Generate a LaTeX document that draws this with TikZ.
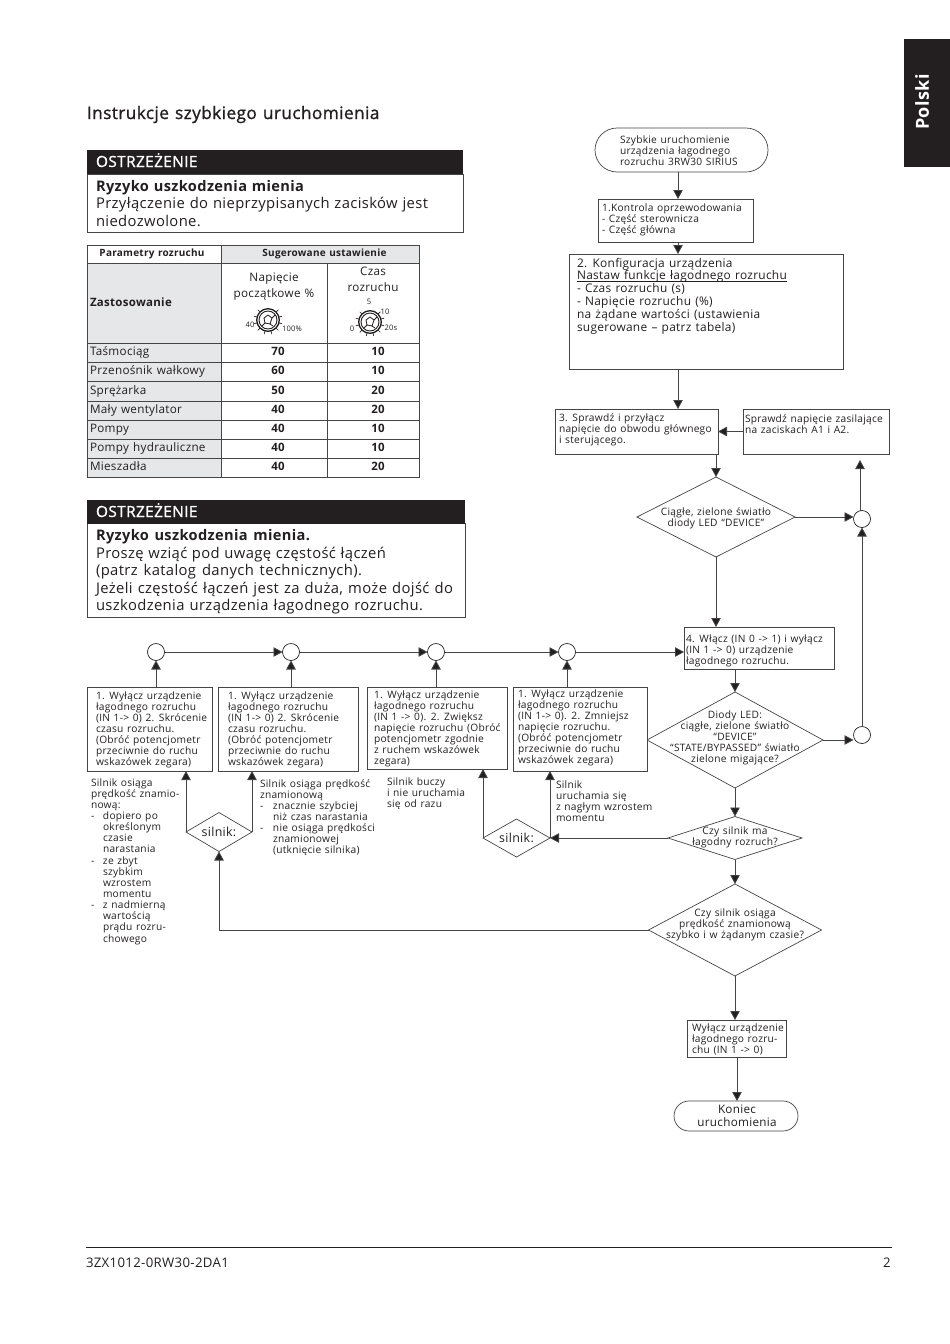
\documentclass[tikz,border=0pt]{standalone}
\usepackage{fontspec}
\setmainfont[LetterSpace=2.5,WordSpace=1.25]{Open Sans}
\usetikzlibrary{shapes.geometric,shapes.misc,arrows.meta,calc}
\definecolor{ink}{HTML}{231F20}
\definecolor{cellgrey}{HTML}{E6E7E8}
\definecolor{linegrey}{HTML}{454545}
\newcommand{\fs}[2]{\fontsize{#1}{#2}\selectfont}
\newcommand{\flowfont}{\fs{10.2}{11.15}}
\newcommand{\st}{\rule{0pt}{9pt}}
\newcommand{\fit}[2]{\makebox[#1pt][s]{#2}}
\newcommand{\ulin}[1]{\setbox0\hbox{#1}\rlap{\rule[-1.6pt]{\wd0}{.6pt}}\box0 }
% name, x1, y1, x2, y2, inset x, first baseline, font, text
\newcommand{\fbx}[9]{%
  \pgfmathsetmacro{\bxW}{#4-#2}\pgfmathsetmacro{\bxH}{#5-#3}%
  \pgfmathsetmacro{\bxV}{#7-10}%
  \node[flowbox,anchor=north west,minimum width=\bxW pt,minimum height=\bxH pt] (#1) at (#2,#3)
   {\parbox[c][\bxH pt][t]{\bxW pt}{#8\leftskip=#6pt\rightskip=-30pt plus 1fil\parindent=0pt\parfillskip=0pt plus 1fil
     \vspace*{\bxV pt}\rule{0pt}{10pt}#9}};}
% zero-size centred text inside a shape: vertical shift, text
\newcommand{\zb}[2]{\raisebox{#1pt}{\smash{\makebox[0pt]{\parbox[c]{300pt}{\centering\flowfont #2}}}}}
\newcommand{\dsh}{\makebox[12pt][l]{-}}
\tikzset{
  flowbox/.style={draw=linegrey,line width=.8pt,fill=white,inner sep=0pt,outer sep=0pt,text=ink},
  dia/.style={diamond,draw=linegrey,line width=.7pt,inner sep=0pt,outer sep=0pt,aspect=1.5,text=ink},
  junction/.style={circle,draw=ink,line width=.7pt,minimum size=17pt,inner sep=0pt,outer sep=0pt,fill=white},
  term/.style={rounded rectangle,draw=linegrey,line width=.7pt,inner sep=0pt,outer sep=0pt},
  conn/.style={draw=linegrey,line width=.8pt,-{Triangle[length=9pt,width=9.5pt,fill=ink]}},
  txt/.style={inner sep=0pt,outer sep=0pt,text=ink,anchor=base west},
  ctxt/.style={inner sep=0pt,outer sep=0pt,text=ink,anchor=base},
  sidenote/.style={inner sep=0pt,outer sep=0pt,text=ink,anchor=north west,align=left,font=\flowfont},
  bar/.style={fill=ink,draw=none,inner sep=0pt,outer sep=0pt,anchor=north west},
  panel/.style={draw=linegrey,line width=.9pt,fill=white,inner sep=0pt,outer sep=0pt,anchor=north west},
  tbl/.style={draw=linegrey,line width=.9pt},
  dialmark/.style={inner sep=0pt,outer sep=0pt,text=ink,font=\fs{7.6}{8}},
}
\begin{document}
\begin{tikzpicture}[x=1pt,y=-1pt]
\useasboundingbox (0,0) rectangle (950,1344);
% language tab
\node[bar,minimum width=46pt,minimum height=128pt] (tab) at (904,39) {};
\node[inner sep=0pt,rotate=90,text=white,font=\bfseries\fs{18}{20}] (tabt) at (922,102) {Polski};
% title
\node[txt,font=\fs{17.2}{18}\addfontfeature{FakeBold=1.2}] (title) at (87,119) {Instrukcje szybkiego uruchomienia};
% warning 1
\node[panel,minimum width=376pt,minimum height=58pt] (w1) at (87,174) {};
\node[bar,minimum width=376pt,minimum height=24pt] (w1b) at (87,150) {};
\node[txt,text=white,font=\fs{15.4}{16}\addfontfeature{FakeBold=1.2}] (w1h) at (96,167) {OSTRZEŻENIE};
\node[txt,font=\bfseries\fs{14.6}{18}] (w1a) at (96,191) {\fit{208}{Ryzyko uszkodzenia mienia}};
\node[txt,font=\fs{14.8}{18}] (w1c) at (96,208) {\fit{332}{Przyłączenie do nieprzypisanych zacisków jest}};
\node[txt,font=\fs{14.8}{18}] (w1d) at (96,226) {niedozwolone.};
% table
\fill[cellgrey] (87,263) rectangle (221,477);
\fill[cellgrey] (221,245) rectangle (419,263);
\draw[tbl] (87,245) rectangle (419,477);
\draw[tbl] (87,263) -- (419,263);
\draw[tbl] (87,343) -- (419,343);
\foreach \yy in {362,381.5,401,420,439,458} \draw[tbl] (87,\yy) -- (419,\yy);
\draw[tbl] (221,245) -- (221,477);
\draw[tbl] (327,263) -- (327,477);
\node[ctxt,font=\bfseries\fs{10}{11}] (th1) at (152,256) {Parametry rozruchu};
\node[ctxt,font=\bfseries\fs{10}{11}] (th2) at (324.5,256) {Sugerowane ustawienie};
\node[txt,font=\bfseries\fs{11.5}{13}] (th3) at (90,306) {Zastosowanie};
\node[ctxt,font=\fs{11.7}{14}] (th4a) at (274,281) {Napięcie};
\node[ctxt,font=\fs{11.7}{14}] (th4b) at (274,297) {początkowe \%};
\node[ctxt,font=\fs{11.7}{14}] (th5a) at (373,275) {Czas};
\node[ctxt,font=\fs{11.7}{14}] (th5b) at (373,291) {rozruchu};
\foreach \i/\nm/\va/\vb/\yy in {1/Taśmociąg/70/10/355,2/Przenośnik wałkowy/60/10/374,3/Sprężarka/50/20/394,4/Mały wentylator/40/20/413,5/Pompy/40/10/432,6/Pompy hydrauliczne/40/10/451,7/Mieszadła/40/20/470}{
  \node[txt,font=\fs{11.7}{13}] (r\i) at (90,\yy) {\nm};
  \node[ctxt,font=\bfseries\fs{11.5}{13}] (ra\i) at (278,\yy) {\va};
  \node[ctxt,font=\bfseries\fs{11.5}{13}] (rb\i) at (378,\yy) {\vb};
}
% dials
\foreach \cx/\cy in {268/320,370/322}{
  \draw[ink,line width=1.3pt] (\cx,\cy) circle (11.3);
  \draw[ink,line width=.9pt] (\cx,\cy) circle (9);
  \foreach \a in {-45,-15,...,225} \draw[ink,line width=.7pt] ($(\cx,\cy)+(\a:11.5)$) -- ($(\cx,\cy)+(\a:14.5)$);
  \draw[ink,line width=.8pt] ($(\cx,\cy)+(-4,-2)$) -- ($(\cx,\cy)+(0,-5)$) -- ($(\cx,\cy)+(4,-2)$) -- ($(\cx,\cy)+(2,4)$) -- ($(\cx,\cy)+(-3,3)$) -- cycle;
  \draw[ink,line width=.8pt] ($(\cx,\cy)+(-3,3)$) -- ($(\cx,\cy)+(-6,6)$) ($(\cx,\cy)+(4,-2)$) -- ($(\cx,\cy)+(7,-5)$) ($(\cx,\cy)+(2,4)$) -- ($(\cx,\cy)+(5,6)$);
}
\node[dialmark] (da) at (250,325) {40};
\node[dialmark] (db) at (292,329) {100\%};
\node[dialmark] (dc) at (352,329) {0};
\node[dialmark] (dd) at (369,302) {5};
\node[dialmark] (de) at (385,312) {10};
\node[dialmark] (df) at (391,328) {20s};
% warning 2
\node[panel,minimum width=378pt,minimum height=94pt] (w2) at (87,523) {};
\node[bar,minimum width=378pt,minimum height=24pt] (w2b) at (87,500) {};
\node[txt,text=white,font=\fs{15.4}{16}\addfontfeature{FakeBold=1.2}] (w2h) at (96,517) {OSTRZEŻENIE};
\node[txt,font=\bfseries\fs{14.6}{18}] (w2a) at (96,540) {\fit{214}{Ryzyko uszkodzenia mienia.}};
\node[txt,font=\fs{14.8}{18}] (w2c) at (96,558) {\fit{290}{Proszę wziąć pod uwagę częstość łączeń}};
\node[txt,font=\fs{14.8}{18}] (w2d) at (96,575) {\fit{266}{(patrz katalog danych technicznych).}};
\node[txt,font=\fs{14.8}{18}] (w2e) at (96,593) {\fit{357}{Jeżeli częstość łączeń jest za duża, może dojść do}};
\node[txt,font=\fs{14.8}{18}] (w2f) at (96,610) {\fit{327}{uszkodzenia urządzenia łagodnego rozruchu.}};
% flow, right column
\coordinate (xa) at (678,0);
\coordinate (xe) at (737,0);
\coordinate (upend) at (860,460);
\node[term,minimum width=173pt,minimum height=44pt] (start) at (681.5,150) {};
\node[sidenote] (startt) at (620,134) {\st Szybkie uruchomienie\\urządzenia łagodnego\\rozruchu 3RW30 SIRIUS};
\fbx{b1}{598}{199}{753}{242}{4}{12}{\flowfont}{1.Kontrola oprzewodowania\\- Część sterownicza\\- Część główna}
\fbx{b2}{569}{254}{843}{369}{8}{13}{\fs{11.9}{12.8}}{2. Konfiguracja urządzenia\\\ulin{Nastaw funkcje łagodnego rozruchu}\\- Czas rozruchu (s)\\- Napięcie rozruchu (\%)\\na żądane wartości (ustawienia\\sugerowane – patrz tabela)}
\fbx{b3}{555}{409}{718}{454}{4}{12}{\flowfont}{3. Sprawdź i przyłącz\\napięcie do obwodu głównego\\i sterującego.}
\fbx{bs}{743}{409}{889}{454}{2}{13}{\flowfont}{Sprawdź napięcie zasilające\\na zaciskach A1 i A2.}
\fbx{b4}{684}{627}{834}{669}{2}{15}{\flowfont}{4. Włącz (IN 0 -> 1) i wyłącz\\(IN 1 -> 0) urządzenie\\łagodnego rozruchu.}
\node[dia,minimum width=158pt,minimum height=80pt] (d1) at (716,517) {\zb{-7}{Ciągłe, zielone światło\\diody LED “DEVICE”}};
\node[dia,minimum width=176pt,minimum height=96pt] (d2) at (735,740) {\zb{-1}{Diody LED:\\ciągłe, zielone światło\\“DEVICE”\\“STATE/BYPASSED” światło\\zielone migające?}};
\node[dia,minimum width=134pt,minimum height=43pt] (d3) at (735,838) {\zb{-3}{Czy silnik ma\\łagodny rozruch?}};
\node[dia,minimum width=173pt,minimum height=92pt] (d4) at (735,930) {\zb{5}{Czy silnik osiąga\\prędkość znamionową\\szybko i w żądanym czasie?}};
\node[junction] (ca) at (862,519) {};
\node[junction] (cb) at (862,735) {};
\fbx{e}{687}{1020}{786}{1057}{5}{11}{\flowfont}{Wyłącz urządzenie\\łagodnego rozru-\\chu (IN 1 -> 0)}
\node[term,minimum width=124pt,minimum height=30pt] (end) at (736,1116) {};
\node[ctxt,font=\fs{11.7}{13}] (enda) at (737,1113) {Koniec};
\node[ctxt,font=\fs{11.7}{13}] (endb) at (737,1126) {uruchomienia};
% flow, lower row
\node[junction] (c1) at (156,652) {};
\node[junction] (c2) at (291,652) {};
\node[junction] (c3) at (436,652) {};
\node[junction] (c4) at (567,652) {};
\fbx{ba}{87}{687}{212}{771}{9}{12}{\flowfont}{1. Wyłącz urządzenie\\łagodnego rozruchu\\(IN 1-> 0) 2. Skrócenie\\czasu rozruchu.\\(Obróć potencjometr\\przeciwnie do ruchu\\wskazówek zegara)}
\fbx{bb}{218}{687}{358}{771}{10}{12}{\flowfont}{1. Wyłącz urządzenie\\łagodnego rozruchu\\(IN 1-> 0) 2. Skrócenie\\czasu rozruchu.\\(Obróć potencjometr\\przeciwnie do ruchu\\wskazówek zegara)}
\fbx{bc}{367}{687}{507}{769}{7}{11}{\flowfont}{1. Wyłącz urządzenie\\łagodnego rozruchu\\(IN 1 -> 0). 2. Zwiększ\\napięcie rozruchu (Obróć\\potencjometr zgodnie\\z ruchem wskazówek\\zegara)}
\fbx{bd}{513}{687}{647}{771}{5}{10}{\flowfont}{1. Wyłącz urządzenie\\łagodnego rozruchu\\(IN 1-> 0). 2. Zmniejsz\\napięcie rozruchu.\\(Obróć potencjometr\\przeciwnie do ruchu\\wskazówek zegara)}
\node[dia,minimum width=66pt,minimum height=39pt] (s1) at (219,832) {\zb{-4}{\fs{12.4}{13}silnik:}};
\node[dia,minimum width=67pt,minimum height=38pt] (s2) at (516.5,838) {\zb{-4}{\fs{12.4}{13}silnik:}};
\node[sidenote] (n1) at (91,777) {\st Silnik osiąga\\prędkość znamio-\\nową:\\\dsh dopiero po\\\hspace*{12pt}określonym\\\hspace*{12pt}czasie\\\hspace*{12pt}narastania\\\dsh ze zbyt\\\hspace*{12pt}szybkim\\\hspace*{12pt}wzrostem\\\hspace*{12pt}momentu\\\dsh z nadmierną\\\hspace*{12pt}wartością\\\hspace*{12pt}prądu rozru-\\\hspace*{12pt}chowego};
\node[sidenote] (n2) at (260,778) {\st Silnik osiąga prędkość\\znamionową\\\dsh\hspace*{1pt}znacznie szybciej\\\hspace*{13pt}niż czas narastania\\\dsh\hspace*{1pt}nie osiąga prędkości\\\hspace*{13pt}znamionowej\\\hspace*{13pt}(utknięcie silnika)};
\node[sidenote] (n3) at (387,776) {\st Silnik buczy\\i nie uruchamia\\się od razu};
\node[sidenote] (n4) at (556,779) {\st Silnik\\uruchamia się\\z nagłym wzrostem\\momentu};
% connectors
\draw[conn] (xa |- start.south) -- (xa |- b1.north);
\draw[conn] (xa |- b1.south) -- (xa |- b2.north);
\draw[conn] (xa |- b2.south) -- (xa |- b3.north);
\draw[conn] (bs.west) -- (bs.west -| b3.east);
\draw[conn] (d1.north |- b3.south) -- (d1.north);
\draw[conn] (d1.east) -- (d1.east -| ca.west);
\draw[conn] (upend |- ca.north) -- (upend);
\draw[conn] (cb.north) -- (ca.south);
\draw[conn] (d1.south) -- (d1.south |- b4.north);
\draw[conn] (d2.north |- b4.south) -- (d2.north);
\draw[conn] (d2.east) -- (d2.east -| cb.west);
\draw[conn] (d2.south) -- (d3.north);
\draw[conn] (d3.south) -- (d4.north);
\draw[conn] (d4.south) -- (d4.south |- e.north);
\draw[conn] (xe |- e.south) -- (xe |- end.north);
\draw[conn] (d3.west) -- (s2.east);
\draw[conn] (d4.west) -| (s1.south);
\draw[conn] (c1 |- ba.north) -- (c1.south);
\draw[conn] (c2 |- bb.north) -- (c2.south);
\draw[conn] (c3 |- bc.north) -- (c3.south);
\draw[conn] (c4 |- bd.north) -- (c4.south);
\draw[conn] (c1.east) -- (c2.west);
\draw[conn] (c2.east) -- (c3.west);
\draw[conn] (c3.east) -- (c4.west);
\draw[conn] (c4.east) -- (c4.east -| b4.west);
\draw[conn] (s1.west) -- (s1.west |- ba.south);
\draw[conn] (s1.east) -- (s1.east |- bb.south);
\draw[conn] (s2.west) -- (s2.west |- bc.south);
\draw[conn] (s2.east) -- (s2.east |- bd.south);
% footer
\coordinate (fl) at (86,1247);
\coordinate (fr) at (892,1247);
\draw[ink,line width=.8pt] (fl) -- (fr);
\node[txt,font=\fs{13.2}{14}] (foot) at (86,1267) {3ZX1012-0RW30-2DA1};
\node[txt,font=\fs{13.2}{14}] (page) at (883,1267) {2};
\end{tikzpicture}
\end{document}
